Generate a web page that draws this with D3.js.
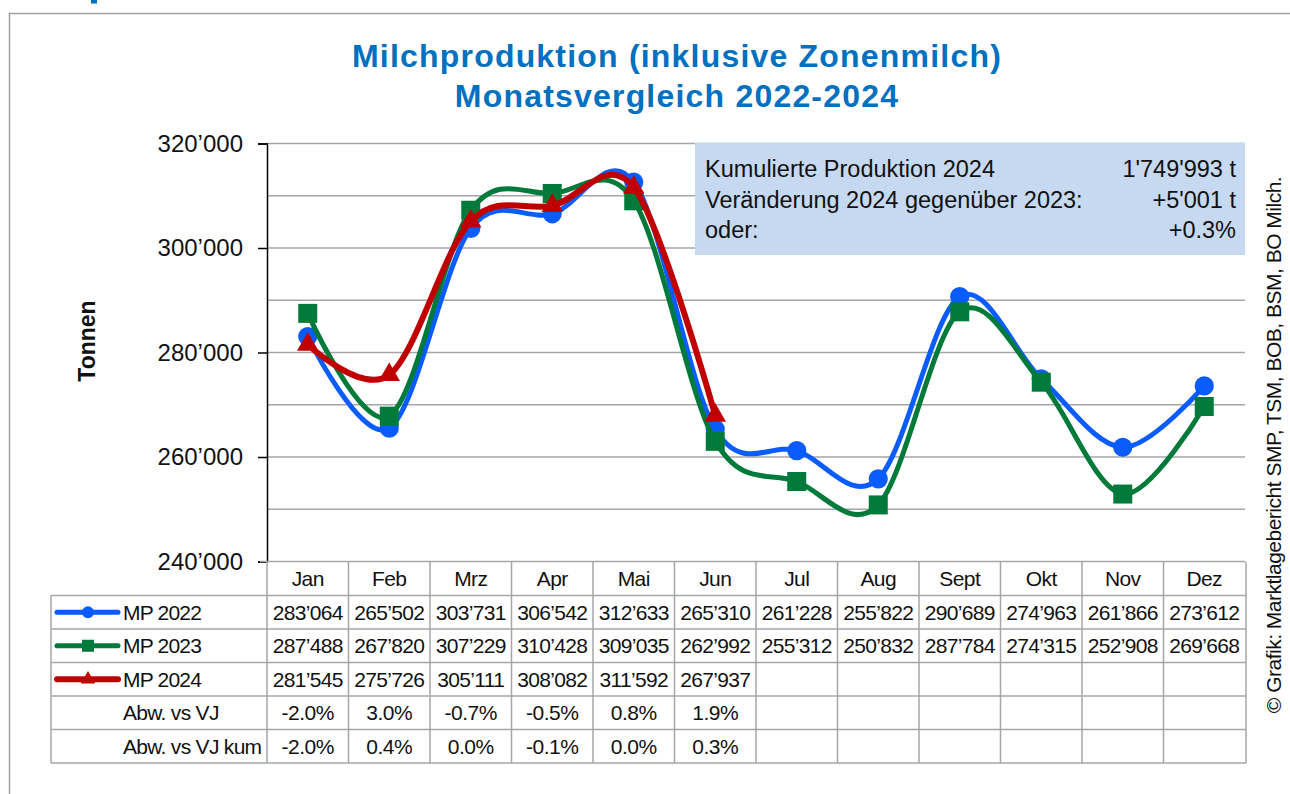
<!DOCTYPE html>
<html>
<head>
<meta charset="utf-8">
<script src="https://cdn.jsdelivr.net/npm/d3@7"></script>
<style>
  body { margin: 0; background: #fff; }
  svg { display: block; font-family: "Liberation Sans", Arial, sans-serif; }
</style>
</head>
<body>
<div id="chart"></div>
<script>
const months = ["Jan", "Feb", "Mrz", "Apr", "Mai", "Jun", "Jul", "Aug", "Sept", "Okt", "Nov", "Dez"]
const mp2022 = [283064, 265502, 303731, 306542, 312633, 265310, 261228, 255822, 290689, 274963, 261866, 273612]
const mp2023 = [287488, 267820, 307229, 310428, 309035, 262992, 255312, 250832, 287784, 274315, 252908, 269668]
const mp2024 = [281545, 275726, 305111, 308082, 311592, 267937]
const abwVJ = ["-2.0%", "3.0%", "-0.7%", "-0.5%", "0.8%", "1.9%"]
const abwVJkum = ["-2.0%", "0.4%", "0.0%", "-0.1%", "0.0%", "0.3%"]
const yTicks = [240000, 260000, 280000, 300000, 320000]
const gridTicks = [250000, 260000, 270000, 280000, 290000, 300000, 310000, 320000]
const infoLabels = ["Kumulierte Produktion 2024", "Veränderung 2024 gegenüber 2023:", "oder:"]
const infoValues = ["1'749'993 t", "+5'001 t", "+0.3%"]
const titleLines = ["Milchproduktion (inklusive Zonenmilch)", "Monatsvergleich 2022-2024"]
const sourceText = "© Grafik: Marktlagebericht SMP, TSM, BOB, BSM, BO Milch."

const series = [
  { name: "MP 2022", values: mp2022, color: "#0A5CFF", symbol: d3.symbolCircle, size: 290, legendSize: 110, width: 5 },
  { name: "MP 2023", values: mp2023, color: "#007A3A", symbol: d3.symbolSquare, size: 361, legendSize: 144, width: 5 },
  { name: "MP 2024", values: mp2024, color: "#C00000", symbol: d3.symbolTriangle, size: 200, legendSize: 90, width: 6 }
]

var W = 1290, H = 794
var plotLeft = 267, plotRight = 1245, plotTop = 143.5, plotBottom = 561.5
var tableLeft = 51
var rowY = [561.5, 595.5, 629, 662.5, 696, 729.5, 763]
var gridColor = "#A6A6A6"

var ch = d3.formatLocale({ decimal: ".", thousands: "\u2019", grouping: [3], currency: ["", ""] })
var fmt = ch.format(",d")

var svg = d3.select("#chart").append("svg")
  .attr("width", W)
  .attr("height", H)

// outer frame (only top and left edge are visible)
svg.append("path")
  .attr("d", "M9.5,800 L9.5,13.5 L1300,13.5")
  .attr("fill", "none")
  .attr("stroke", "#A0A0A0")
  .attr("stroke-width", 1.5)

// bit of a heading cut off above the frame
svg.append("rect")
  .attr("x", 91).attr("y", 0)
  .attr("width", 6).attr("height", 3.5)
  .attr("fill", "#0070C0")

var x = d3.scaleBand().domain(months).range([plotLeft, plotRight])
var y = d3.scaleLinear().domain([240000, 320000]).range([plotBottom, plotTop])
var cx = function (m) { return x(m) + x.bandwidth() / 2 }

// title
svg.append("g").selectAll("text")
  .data(titleLines)
  .enter().append("text")
    .attr("x", 677)
    .attr("y", function (d, i) { return 67 + i * 40 })
    .attr("text-anchor", "middle")
    .attr("font-size", 32)
    .attr("font-weight", "bold")
    .attr("letter-spacing", 1.2)
    .attr("fill", "#0070C0")
    .text(function (d) { return d })

// gridlines
svg.append("g").selectAll("line")
  .data(gridTicks)
  .enter().append("line")
    .attr("x1", plotLeft).attr("x2", plotRight)
    .attr("y1", function (d) { return y(d) }).attr("y2", function (d) { return y(d) })
    .attr("stroke", gridColor)
    .attr("stroke-width", 1.5)

// info box
var info = svg.append("g")
info.append("rect")
  .attr("x", 695).attr("y", 143)
  .attr("width", plotRight - 695).attr("height", 112)
  .attr("fill", "#C6D9F0")
info.selectAll("text.lbl")
  .data(infoLabels)
  .enter().append("text")
    .attr("class", "lbl")
    .attr("x", 705)
    .attr("y", function (d, i) { return 177 + i * 30.5 })
    .attr("font-size", 23.5)
    .attr("fill", "#111")
    .text(function (d) { return d })
info.selectAll("text.val")
  .data(infoValues)
  .enter().append("text")
    .attr("class", "val")
    .attr("x", 1236)
    .attr("y", function (d, i) { return 177 + i * 30.5 })
    .attr("text-anchor", "end")
    .attr("font-size", 23.5)
    .attr("fill", "#111")
    .text(function (d) { return d })

// y axis
var yAxis = d3.axisLeft(y)
  .tickValues(yTicks)
  .tickSize(9)
  .tickPadding(15)
  .tickFormat(function (d) { return fmt(d) })

svg.append("g")
  .attr("transform", "translate(" + plotLeft + ",0)")
  .call(yAxis)
  .call(function (g) {
    g.select(".domain").attr("stroke", "#000").attr("stroke-width", 1.5)
    g.selectAll(".tick line").attr("stroke", "#000").attr("stroke-width", 1.5)
    g.selectAll(".tick text")
      .attr("font-size", 24)
      .attr("font-family", "Liberation Sans, Arial, sans-serif")
      .attr("fill", "#111")
  })

svg.append("text")
  .attr("transform", "translate(95,341) rotate(-90)")
  .attr("text-anchor", "middle")
  .attr("font-size", 23)
  .attr("font-weight", "bold")
  .attr("fill", "#111")
  .text("Tonnen")

// lines and markers
var line = d3.line()
  .x(function (d, i) { return cx(months[i]) })
  .y(function (d) { return y(d) })
  .curve(d3.curveCardinal.tension(0))

series.forEach(function (s) {
  var g = svg.append("g")
  g.append("path")
    .datum(s.values)
    .attr("d", line)
    .attr("fill", "none")
    .attr("stroke", s.color)
    .attr("stroke-width", s.width)
    .attr("stroke-linejoin", "round")
  g.selectAll("path.mk")
    .data(s.values)
    .enter().append("path")
      .attr("class", "mk")
      .attr("d", d3.symbol().type(s.symbol).size(s.size))
      .attr("transform", function (d, i) { return "translate(" + cx(months[i]) + "," + y(d) + ")" })
      .attr("fill", s.color)
})

// data table
var table = svg.append("g")
var tcolor = "#111"
var fs = 21

table.append("line")
  .attr("x1", plotLeft - 7).attr("x2", plotRight)
  .attr("y1", rowY[0]).attr("y2", rowY[0])
  .attr("stroke", gridColor).attr("stroke-width", 1.5)

table.selectAll("line.h")
  .data(rowY.slice(1))
  .enter().append("line")
    .attr("class", "h")
    .attr("x1", tableLeft).attr("x2", plotRight + 1)
    .attr("y1", function (d) { return d }).attr("y2", function (d) { return d })
    .attr("stroke", gridColor).attr("stroke-width", 1.5)

var colEdges = months.map(function (m) { return x(m) }).concat([plotRight + 1])
table.selectAll("line.v")
  .data(colEdges)
  .enter().append("line")
    .attr("class", "v")
    .attr("x1", function (d) { return d }).attr("x2", function (d) { return d })
    .attr("y1", rowY[0]).attr("y2", rowY[6])
    .attr("stroke", gridColor).attr("stroke-width", 1.5)

table.append("line")
  .attr("x1", tableLeft).attr("x2", tableLeft)
  .attr("y1", rowY[1]).attr("y2", rowY[6])
  .attr("stroke", gridColor).attr("stroke-width", 1.5)

function rowMid(r) { return (rowY[r] + rowY[r + 1]) / 2 }

table.selectAll("text.month")
  .data(months)
  .enter().append("text")
    .attr("class", "month")
    .attr("x", cx)
    .attr("y", rowMid(0) + 7.5)
    .attr("text-anchor", "middle")
    .attr("font-size", fs)
    .attr("letter-spacing", -0.6)
    .attr("fill", tcolor)
    .text(function (d) { return d })

var textRows = [
  { label: "Abw. vs VJ", values: abwVJ },
  { label: "Abw. vs VJ kum", values: abwVJkum }
]

series.forEach(function (s, r) {
  var yy = rowMid(r + 1)
  table.append("line")
    .attr("x1", 57).attr("x2", 118)
    .attr("y1", yy).attr("y2", yy)
    .attr("stroke", s.color)
    .attr("stroke-width", s.width)
    .attr("stroke-linecap", "round")
  table.append("path")
    .attr("d", d3.symbol().type(s.symbol).size(s.legendSize))
    .attr("transform", "translate(88," + yy + ")")
    .attr("fill", s.color)
  table.append("text")
    .attr("x", 123).attr("y", yy + 7.5)
    .attr("font-size", fs)
    .attr("letter-spacing", -0.8)
    .attr("fill", tcolor)
    .text(s.name)
  table.selectAll("text.v" + r)
    .data(s.values)
    .enter().append("text")
      .attr("x", function (d, i) { return cx(months[i]) })
      .attr("y", yy + 7.5)
      .attr("text-anchor", "middle")
      .attr("font-size", fs)
      .attr("letter-spacing", -0.65)
      .attr("fill", tcolor)
      .text(function (d) { return fmt(d) })
})

textRows.forEach(function (t, k) {
  var yy = rowMid(k + 4)
  table.append("text")
    .attr("x", 123).attr("y", yy + 7.5)
    .attr("font-size", fs)
    .attr("letter-spacing", -0.7)
    .attr("fill", tcolor)
    .text(t.label)
  table.selectAll("text.p" + k)
    .data(t.values)
    .enter().append("text")
      .attr("x", function (d, i) { return cx(months[i]) })
      .attr("y", yy + 7.5)
      .attr("text-anchor", "middle")
      .attr("font-size", fs)
      .attr("letter-spacing", -0.5)
      .attr("fill", tcolor)
      .text(function (d) { return d })
})

// source note on the right
svg.append("text")
  .attr("transform", "translate(1281,445) rotate(-90)")
  .attr("text-anchor", "middle")
  .attr("font-size", 21)
  .attr("letter-spacing", -0.5)
  .attr("fill", "#111")
  .text(sourceText)
</script>
</body>
</html>
